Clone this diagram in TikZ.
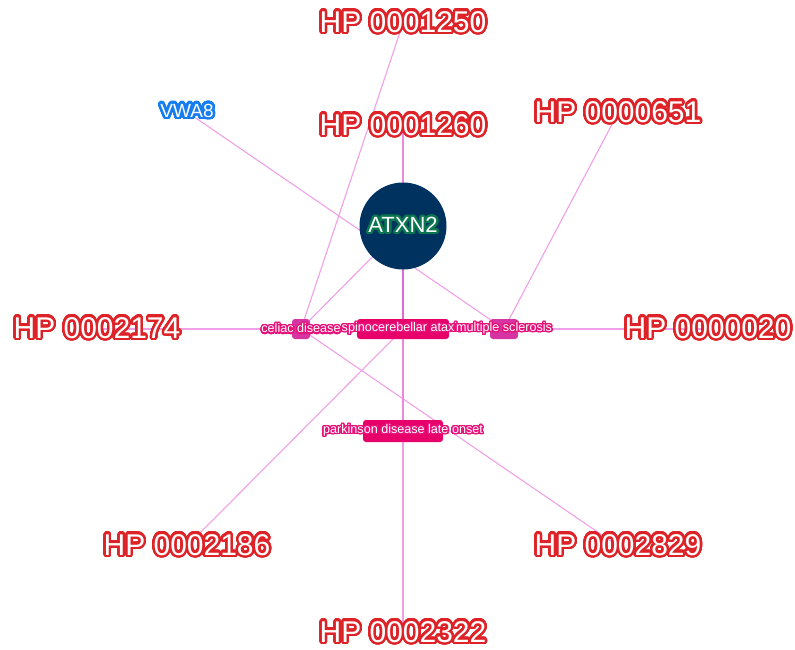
\documentclass[tikz,border=0pt]{standalone}
\usepackage{fontspec}
\setmainfont{Liberation Sans}
\usepackage[copies]{contour}
\contournumber{40}
\definecolor{hpred}{RGB}{222,35,40}
\definecolor{edgepink}{RGB}{240,160,230}
\definecolor{edgestrong}{RGB}{226,104,212}
\definecolor{edgemid}{RGB}{236,136,224}
\definecolor{boxcrimson}{RGB}{232,0,106}
\definecolor{boxmagenta}{RGB}{214,52,162}
\definecolor{dislabel}{RGB}{230,18,122}
\definecolor{genenavy}{RGB}{0,50,96}
\definecolor{genegreen}{RGB}{10,118,80}
\definecolor{geneblue}{RGB}{22,125,240}
\tikzset{
  hplabel/.style={text=white,inner sep=0pt,font=\fontsize{30}{30}\selectfont},
  dislab/.style={text=white,inner sep=0pt,font=\fontsize{12.6}{12}\selectfont},
  disbox/.style={rounded corners=3pt,minimum height=20pt,inner sep=0pt},
  thinedge/.style={draw=edgepink,line width=1.1pt},
  midedge/.style={draw=edgemid,line width=1.5pt},
  strongedge/.style={draw=edgestrong,line width=2.2pt}
}
\newcommand{\hptext}[1]{\contourlength{2.4pt}\contour{hpred}{#1}}
\newcommand{\distext}[1]{\contourlength{1.3pt}\contour{dislabel}{#1}}
\begin{document}
\begin{tikzpicture}[x=1pt,y=-1pt]
\useasboundingbox (0,0) rectangle (795,650);
% coordinates of nodes
\coordinate (pATX) at (403,226);
\coordinate (pVWA) at (187,112);
\coordinate (p1250) at (403,23);
\coordinate (p1260) at (403,126);
\coordinate (p651) at (618,113);
\coordinate (p2174) at (97,329);
\coordinate (p20) at (708,329);
\coordinate (p2186) at (187,546);
\coordinate (p2829) at (618,546);
\coordinate (p2322) at (403,633);
\coordinate (pcel) at (301,329);
\coordinate (psca) at (403,329);
\coordinate (pms) at (504,329);
\coordinate (ppd) at (403,431);
% edges
\draw[thinedge] (p2174) -- (psca);
\draw[thinedge] (psca) -- (p20);
\draw[thinedge] (pcel) -- (p1250);
\draw[thinedge] (pcel) -- (pATX);
\draw[thinedge] (pcel) -- (p2829);
\draw[thinedge] (pVWA) -- (pms);
\draw[thinedge] (pms) -- (p651);
\draw[thinedge] (psca) -- (p2186);
\draw[thinedge] (ppd) -- (p2322);
\draw[midedge] (psca) -- (ppd);
\draw[midedge] (p1260) -- (pATX);
\draw[strongedge] (pATX) -- (psca);
% gene node
\node[circle,fill=genenavy,minimum size=87pt,inner sep=0pt] (atxn) at (pATX) {};
\node[text=white,inner sep=0pt,font=\fontsize{22}{22}\selectfont] (atxnt) at (pATX) {\contourlength{2.2pt}\contour{genegreen}{ATXN2}};
\node[text=white,inner sep=0pt,font=\fontsize{19}{19}\selectfont] (vwa) at (pVWA) {\contourlength{2.6pt}\contour{geneblue}{VWA8}};
% disease boxes
\node[disbox,fill=boxmagenta,minimum width=18pt] (celb) at (pcel) {};
\node[disbox,fill=boxcrimson,minimum width=92pt] (scab) at (psca) {};
\node[disbox,fill=boxmagenta,minimum width=28pt] (msb) at (pms) {};
\node[disbox,fill=boxcrimson,minimum width=80pt,minimum height=22pt] (pdb) at (ppd) {};
% disease labels
\node[dislab] (celt) at (pcel) {\distext{celiac disease}};
\node[dislab] (scat) at (psca) {\distext{spinocerebellar ataxia}};
\node[dislab] (mst) at (pms) {\distext{multiple sclerosis}};
\node[dislab] (pdt) at (ppd) {\distext{parkinson disease late onset}};
% phenotype labels
\node[hplabel] (h1250) at (p1250) {\hptext{HP 0001250}};
\node[hplabel] (h1260) at (p1260) {\hptext{HP 0001260}};
\node[hplabel] (h651) at (p651) {\hptext{HP 0000651}};
\node[hplabel] (h2174) at (p2174) {\hptext{HP 0002174}};
\node[hplabel] (h20) at (p20) {\hptext{HP 0000020}};
\node[hplabel] (h2186) at (p2186) {\hptext{HP 0002186}};
\node[hplabel] (h2829) at (p2829) {\hptext{HP 0002829}};
\node[hplabel] (h2322) at (p2322) {\hptext{HP 0002322}};
\end{tikzpicture}
\end{document}
